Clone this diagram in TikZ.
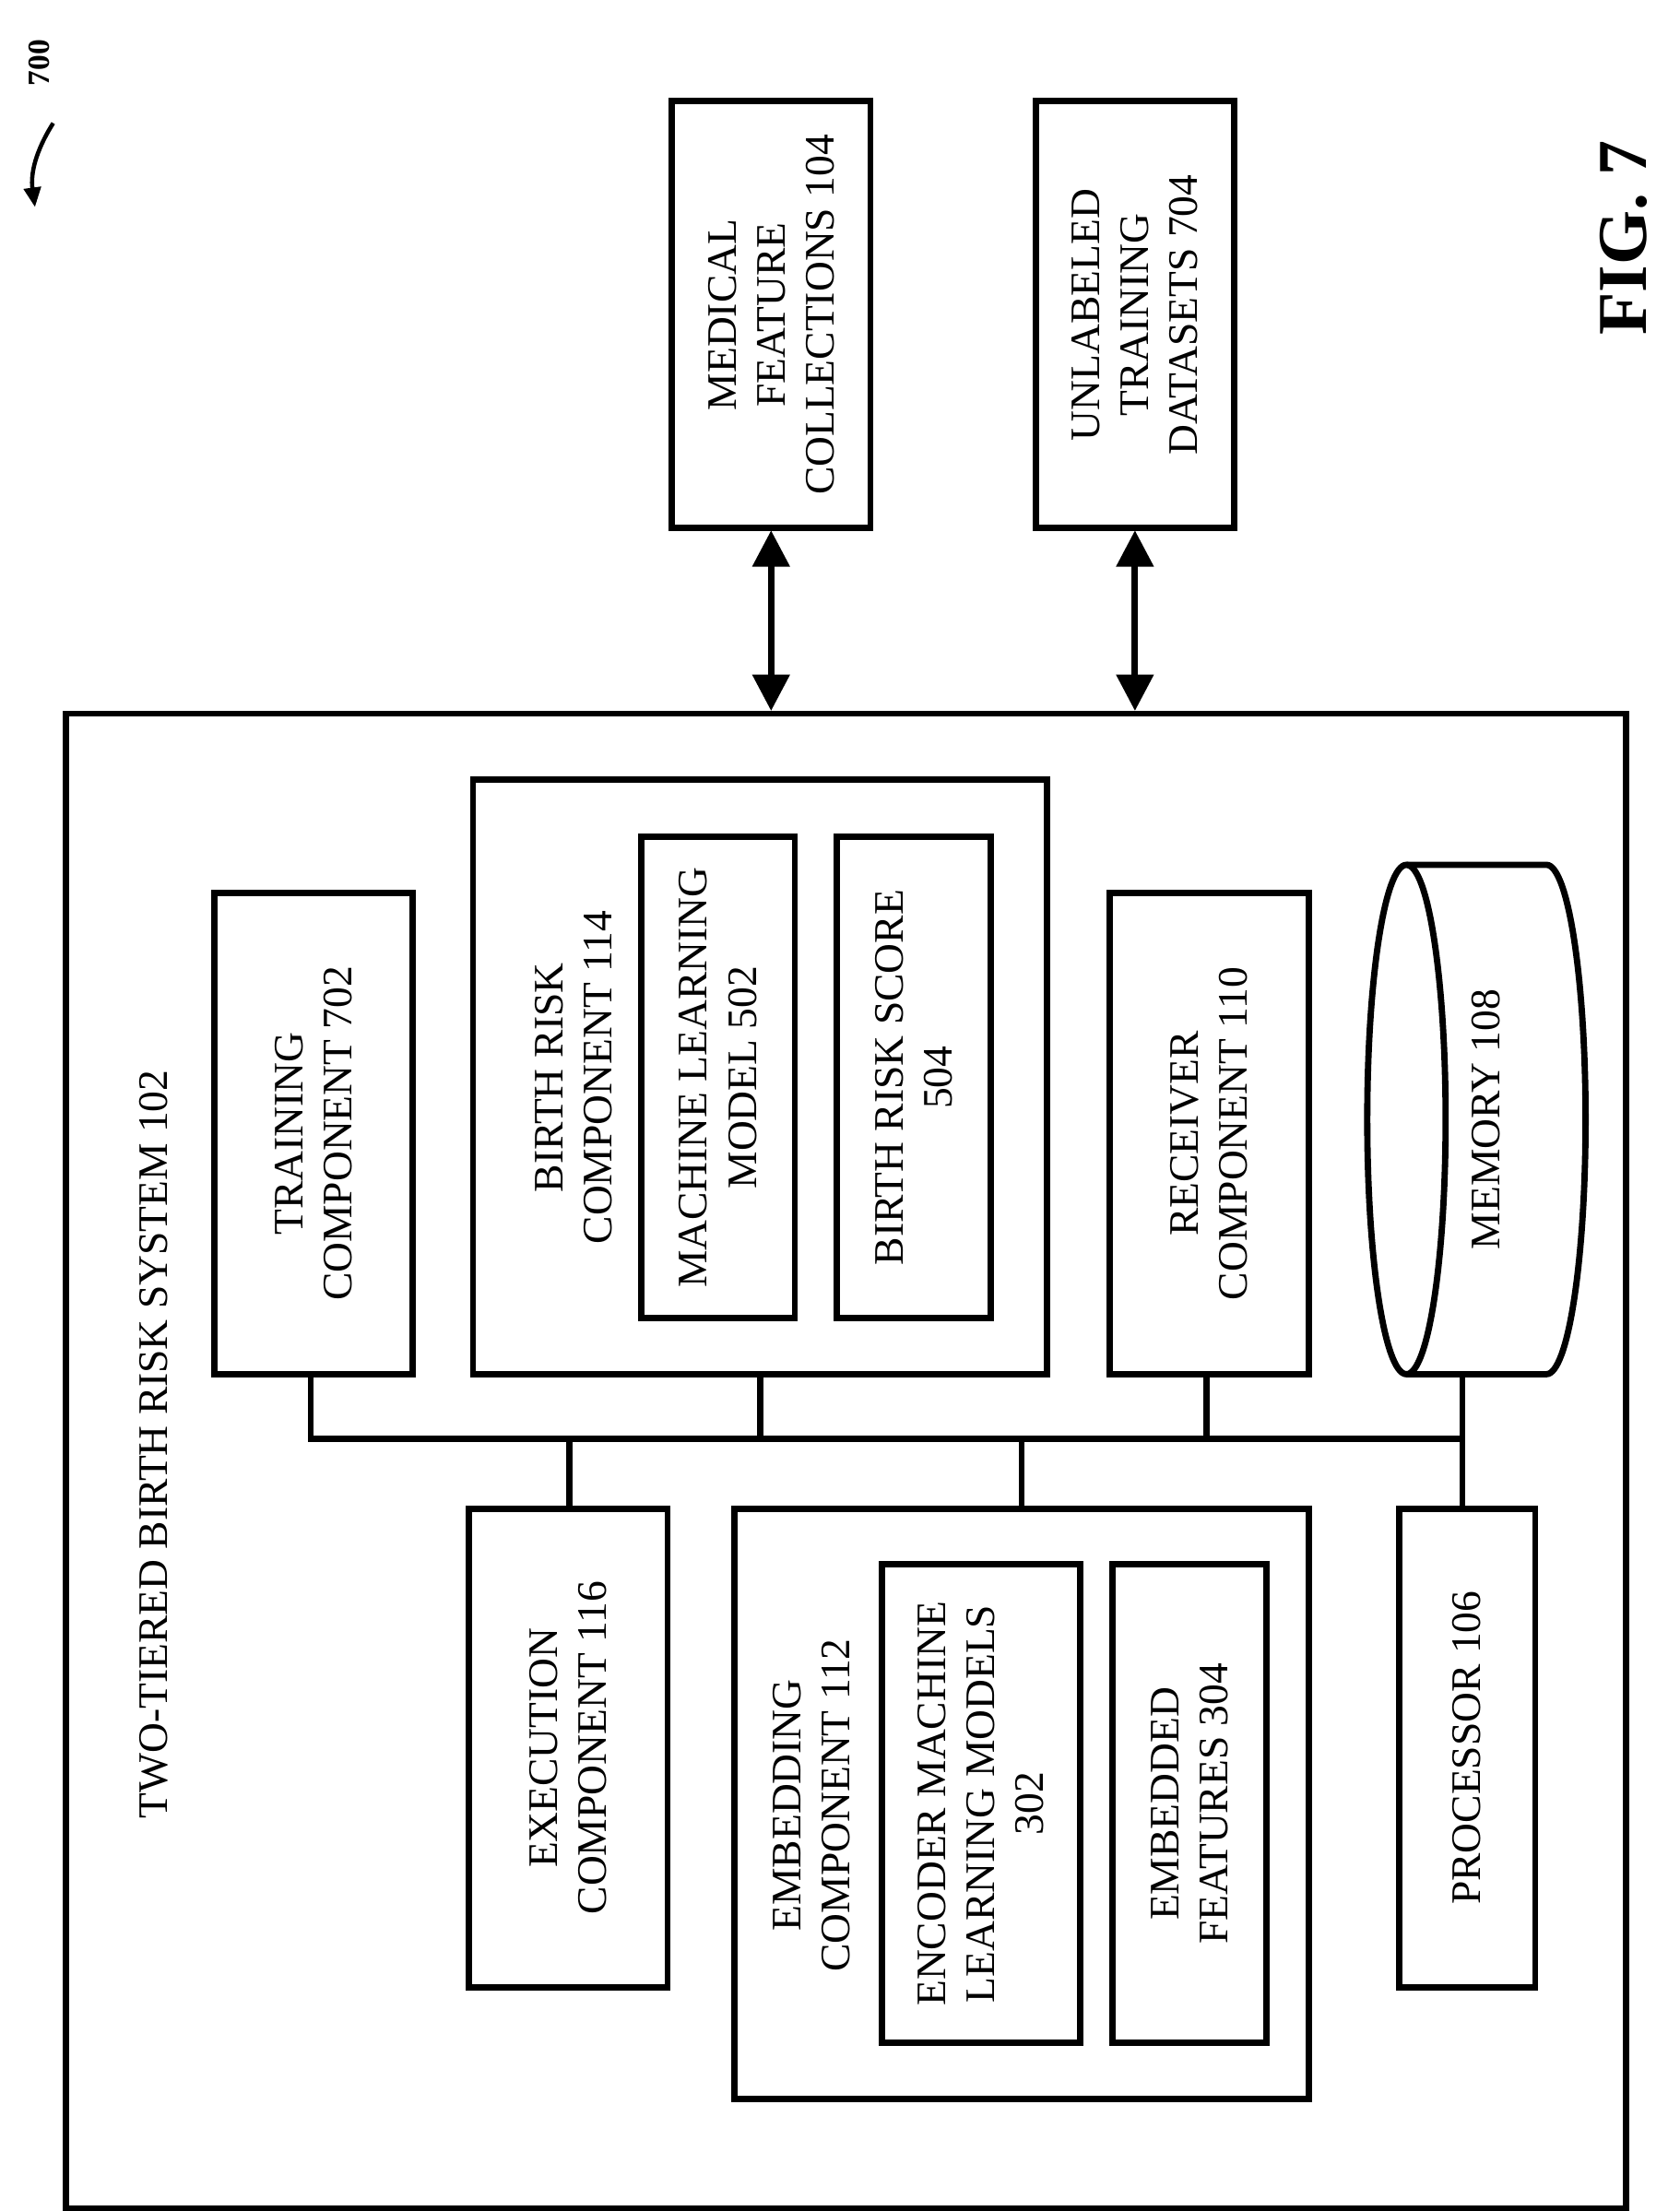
\documentclass[tikz,border=0pt]{standalone}
\usepackage{fontspec}
\setmainfont{Liberation Serif}
\usetikzlibrary{arrows.meta}
\begin{document}
\begin{tikzpicture}[x=1pt,y=-1pt,
  box/.style={draw,line width=4.5pt},
  lbl/.style={rotate=90,align=center,font=\fontsize{30}{35}\selectfont},
  ln/.style={line width=4.5pt},
  dbl/.style={line width=4.5pt,{Triangle[length=26pt,width=26pt]}-{Triangle[length=26pt,width=26pt]}}]
\useasboundingbox (0,0) rectangle (1200,1580);
% outer
\draw[box] (47,510) rectangle (1162,1578);
\node[lbl] (title) at (110,1032) {TWO-TIERED BIRTH RISK SYSTEM 102};
% training
\draw[box] (153,638) rectangle (295,982);
\node[lbl] (train) at (224,810) {TRAINING\\COMPONENT 702};
% birth risk
\draw[box] (338,557) rectangle (748,982);
\node[lbl] (br) at (410,770) {BIRTH RISK\\COMPONENT 114};
\draw[box] (458,598) rectangle (568,942);
\node[lbl] (ml) at (513,770) {MACHINE LEARNING\\MODEL 502};
\draw[box] (598,598) rectangle (708,942);
\node[lbl] (bs) at (653,770) {BIRTH RISK SCORE\\504};
% receiver
\draw[box] (793,638) rectangle (935,982);
\node[lbl] (rec) at (864,810) {RECEIVER\\COMPONENT 110};
% memory cylinder
\draw[box] (1005,618) -- (1105,618) arc[start angle=-90,end angle=90,x radius=28,y radius=182] -- (1005,982);
\draw[box] (1005,800) ellipse[x radius=28,y radius=182];
\node[lbl] (mem) at (1062,800) {MEMORY 108};
% bus
\draw[ln] (222,982) -- (222,1028) -- (1045,1028);
\draw[ln] (543,982) -- (543,1028);
\draw[ln] (862,982) -- (862,1028);
\draw[ln] (1045,982) -- (1045,1078);
\draw[ln] (407,1028) -- (407,1078);
\draw[ln] (730,1028) -- (730,1078);
% execution
\draw[box] (335,1078) rectangle (477,1420);
\node[lbl] (exe) at (406,1249) {EXECUTION\\COMPONENT 116};
% embedding
\draw[box] (525,1078) rectangle (935,1500);
\node[lbl] (emb) at (580,1290) {EMBEDDING\\COMPONENT 112};
\draw[box] (630,1118) rectangle (772,1460);
\node[lbl] (enc) at (701,1289) {ENCODER MACHINE\\LEARNING MODELS\\302};
\draw[box] (795,1118) rectangle (905,1460);
\node[lbl] (ef) at (850,1289) {EMBEDDED\\FEATURES 304};
% processor
\draw[box] (1000,1078) rectangle (1097,1420);
\node[lbl] (proc) at (1048,1249) {PROCESSOR 106};
% external
\draw[box] (480,72) rectangle (622,377);
\node[lbl] (med) at (551,225) {MEDICAL\\FEATURE\\COLLECTIONS 104};
\draw[box] (740,72) rectangle (882,377);
\node[lbl] (unl) at (811,225) {UNLABELED\\TRAINING\\DATASETS 704};
\draw[dbl] (551,379) -- (551,508);
\draw[dbl] (811,379) -- (811,508);
% fig label
\node[rotate=90,font=\bfseries\fontsize{50}{60}\selectfont] (fig) at (1160,170) {FIG. 7};
\node[rotate=90,font=\bfseries\fontsize{22}{26}\selectfont] (n700) at (28,45) {700};
\draw[line width=3pt,-{Triangle[length=14pt,width=12pt]}] (38,88) to[bend right=20] (25,148);
\end{tikzpicture}
\end{document}
